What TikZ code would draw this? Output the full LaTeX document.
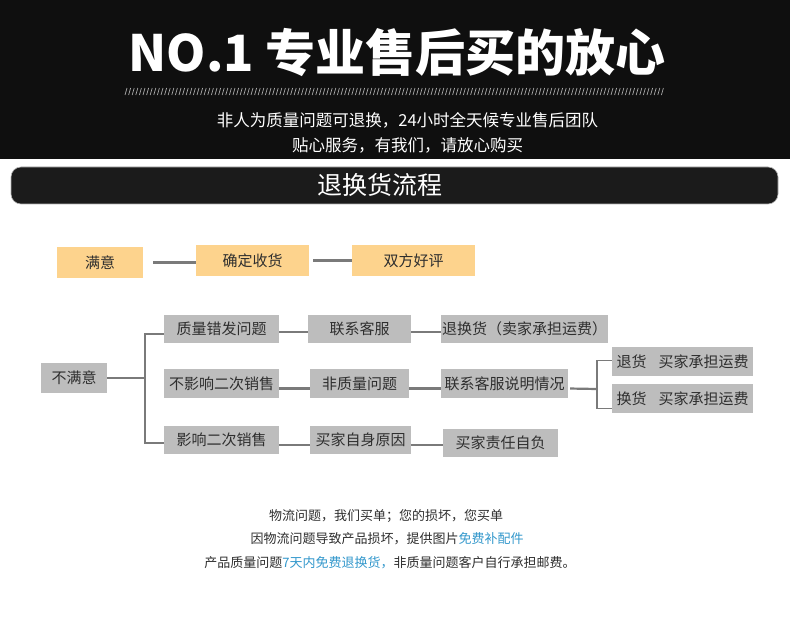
\documentclass[tikz,border=0pt]{standalone}
\usepackage{fontspec}
\setmainfont{Noto Sans CJK SC}
\usepackage{xcolor}
\usepackage{tikz}

\definecolor{headbg}{HTML}{0F0F0F}
\definecolor{barbg}{HTML}{1B1B1B}
\definecolor{okfill}{HTML}{FDD38D}
\definecolor{nofill}{HTML}{BDBDBD}
\definecolor{txtgray}{HTML}{2E2E2E}
\definecolor{linegray}{HTML}{7A7A7A}
\definecolor{tipblue}{HTML}{3398CC}

\begin{document}
\begin{tikzpicture}[x=1pt,y=-1pt,
    okbox/.style={fill=okfill, inner sep=0pt, minimum height=31pt, text=txtgray, font=\fontsize{15}{17}\selectfont},
    nobox/.style={fill=nofill, inner sep=0pt, minimum height=28pt, text=txtgray, font=\fontsize{15}{17}\selectfont},
    link/.style={draw=linegray, line width=2.2pt},
    fork/.style={draw=linegray, line width=1.5pt},
    foot/.style={text=txtgray, font=\fontsize{13}{15}\selectfont}]
            \useasboundingbox (0,0) rectangle (790,617);
            \fill[white] (0,0) rectangle (790,617);

            % Header
            \fill[headbg] (0,0) rectangle (790,159);
            \node[text=white, font=\fontsize{50}{56}\selectfont\bfseries] (title) at (397,53) {NO.1 专业售后买的放心};
            \foreach \i in {125,128.6,...,665}
                \draw[gray!65, line width=0.7pt] (\i,95) -- (\i+2,88);
            \node[text=white, font=\fontsize{16.5}{18}\selectfont] (subone) at (407.5,120) {非人为质量问题可退换，24小时全天候专业售后团队};
            \node[text=white, font=\fontsize{16.5}{18}\selectfont] (subtwo) at (407.5,145) {贴心服务，有我们，请放心购买};

            % Title bar
            \draw[gray!60, fill=barbg, line width=0.6pt, rounded corners=10pt] (11,167) rectangle (778,204);
            \node[text=white, font=\fontsize{25}{27}\selectfont] (bartitle) at (380,185) {退换货流程};

            % Satisfied
            \node[okbox, minimum width=86pt] (my) at (100,262.5) {满意};
            \node[okbox, minimum width=113pt] (qdsh) at (252.5,260.5) {确定收货};
            \node[okbox, minimum width=123pt] (sfhp) at (413.5,260.5) {双方好评};
            \draw[link, shorten <=10pt] (my.east) -- (qdsh.west |- my.east);
            \draw[link, shorten <=4pt] (qdsh.east) -- (sfhp.west);

            % Not satisfied
            \node[nobox, minimum width=66pt, minimum height=30pt] (bmy) at (74,378) {不满意};
            \node[nobox, minimum width=115pt] (zlcf) at (221.5,329) {质量错发问题};
            \node[nobox, minimum width=115pt, minimum height=29pt] (bys) at (221.5,383.5) {不影响二次销售};
            \node[nobox, minimum width=115pt] (yx) at (221.5,440) {影响二次销售};
            \coordinate (forka) at (145,378);
            \draw[fork] (bmy.east) -- (forka);
            \draw[fork] ([yshift=-5pt]zlcf.west) -| (forka) |- ([yshift=-3pt]yx.west);

            % Second column
            \node[nobox, minimum width=103pt] (lxkf) at (359.5,329) {联系客服};
            \node[nobox, minimum width=99pt, minimum height=29pt] (fzl) at (359.5,383.5) {非质量问题};
            \node[nobox, minimum width=101pt] (mjzs) at (360.5,440) {买家自身原因};
            \draw[link] ([yshift=-3pt]zlcf.east) -- ([yshift=-3pt]lxkf.west);
            \draw[link] ([yshift=-5pt]bys.east) -- ([yshift=-5pt]fzl.west);
            \draw[link] ([yshift=-5pt]yx.east) -- ([yshift=-5pt]mjzs.west);

            % Third column
            \node[nobox, minimum width=167pt] (thh) at (524.5,329) {退换货（卖家承担运费）};
            \node[nobox, minimum width=127pt, minimum height=29pt] (lxsm) at (504.5,383.5) {联系客服说明情况};
            \node[nobox, minimum width=115pt] (mjzr) at (500.5,443) {买家责任自负};
            \draw[link] ([yshift=-3pt]lxkf.east) -- ([yshift=-3pt]thh.west);
            \draw[link] ([yshift=-5pt]fzl.east) -- ([yshift=-5pt]lxsm.west);
            \draw[link] ([yshift=-5pt]mjzs.east) -- ([yshift=-2pt]mjzr.west);

            % Return or exchange
            \node[nobox, minimum width=141pt, minimum height=29pt] (th) at (682.5,361.5) {退货\hspace{0.8em}买家承担运费};
            \node[nobox, minimum width=141pt, minimum height=29pt] (hh) at (682.5,398.5) {换货\hspace{0.8em}买家承担运费};
            \coordinate (forkb) at (597,389);
            \draw[link, shorten <=2pt] ([yshift=-5pt]lxsm.east) -- (forkb);
            \draw[fork] ([yshift=1pt]th.west) -| (forkb) |- ([yshift=-10pt]hh.west);

            % Footer notes
            \node[foot] (footone) at (386,516) {物流问题，我们买单；您的损坏，您买单};
            \node[foot] (foottwo) at (387,539) {因物流问题导致产品损坏，提供图片\textcolor{tipblue}{免费补配件}};
            \node[foot] (footthree) at (390,563) {产品质量问题\textcolor{tipblue}{7天内免费退换货，}非质量问题客户自行承担邮费。};
        \end{tikzpicture}
\end{document}
